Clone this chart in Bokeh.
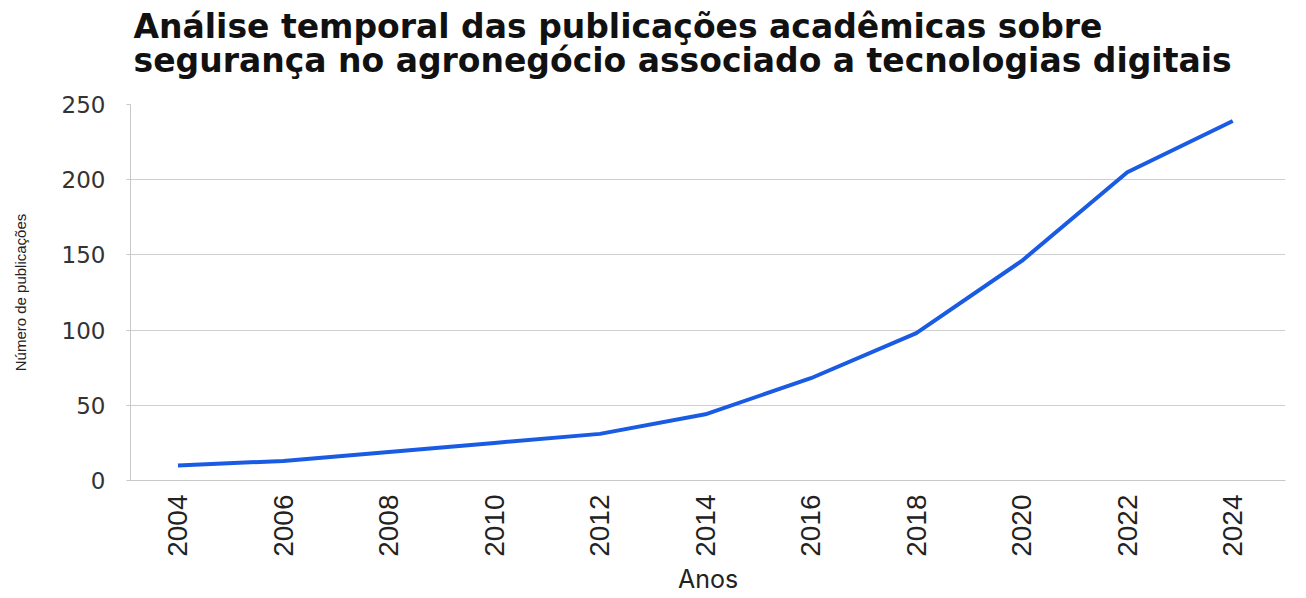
from bokeh.plotting import figure
from bokeh.models import Range1d, FixedTicker, Title
from bokeh.embed import file_html
from bokeh.resources import INLINE
import math

years = [2004, 2006, 2008, 2010, 2012, 2014, 2016, 2018, 2020, 2022, 2024]
publicacoes = [10, 13, 19, 25, 31, 44, 68, 98, 146, 205, 239]
y_ticks = [0, 50, 100, 150, 200, 250]

title_line1 = "Análise temporal das publicações acadêmicas sobre"
title_line2 = "segurança no agronegócio associado a tecnologias digitais"
y_label = "Número de publicações"
x_label = "Anos"

p = figure(width=1290, height=596, output_backend="svg", toolbar_location=None,
           x_range=Range1d(2003.1, 2025.0), y_range=Range1d(0, 250),
           min_border_left=130, min_border_right=5, min_border_top=104, min_border_bottom=116)
p.title = None
p.add_layout(Title(text=title_line2, text_font="DejaVu Sans", text_font_size="33px",
                   text_font_style="bold", text_color="#111111", align="left", offset=3,
                   standoff=50), "above")
p.add_layout(Title(text=title_line1, text_font="DejaVu Sans", text_font_size="33px",
                   text_font_style="bold", text_color="#111111", align="left", offset=3,
                   standoff=-65), "above")

p.line(years, publicacoes, line_color="#1a5be3", line_width=4)

p.outline_line_color = None
p.xgrid.grid_line_color = None
p.ygrid.grid_line_color = "#cfcfcf"
p.ygrid.grid_line_width = 1

p.xaxis.ticker = FixedTicker(ticks=years)
p.xaxis.major_label_orientation = math.pi / 2
p.xaxis.major_label_text_font = "Liberation Sans"
p.xaxis.major_label_text_font_size = "28px"
p.xaxis.major_label_text_color = "#222222"
p.xaxis.major_label_standoff = 14
p.xaxis.major_tick_out = 0
p.xaxis.major_tick_in = 0
p.xaxis.minor_tick_line_color = None
p.xaxis.axis_line_color = "#c8c8c8"
p.xaxis.axis_label = x_label
p.xaxis.axis_label_text_font = "Inter"
p.xaxis.axis_label_text_font_size = "25px"
p.xaxis.axis_label_text_font_style = "normal"
p.xaxis.axis_label_text_color = "#222222"
p.xaxis.axis_label_standoff = 4

p.yaxis.ticker = FixedTicker(ticks=y_ticks)
p.yaxis.major_label_text_font = "DejaVu Sans"
p.yaxis.major_label_text_font_size = "23px"
p.yaxis.major_label_text_color = "#333333"
p.yaxis.major_label_standoff = 21
p.yaxis.major_tick_out = 4
p.yaxis.major_tick_in = 0
p.yaxis.major_tick_line_color = "#c8c8c8"
p.yaxis.minor_tick_line_color = None
p.yaxis.axis_line_color = "#c8c8c8"
p.yaxis.axis_label = y_label
p.yaxis.axis_label_text_font = "Liberation Sans"
p.yaxis.axis_label_text_font_size = "15px"
p.yaxis.axis_label_text_font_style = "normal"
p.yaxis.axis_label_text_color = "#222222"
p.yaxis.axis_label_standoff = 30

open("out.html", "w").write(file_html(p, INLINE))
